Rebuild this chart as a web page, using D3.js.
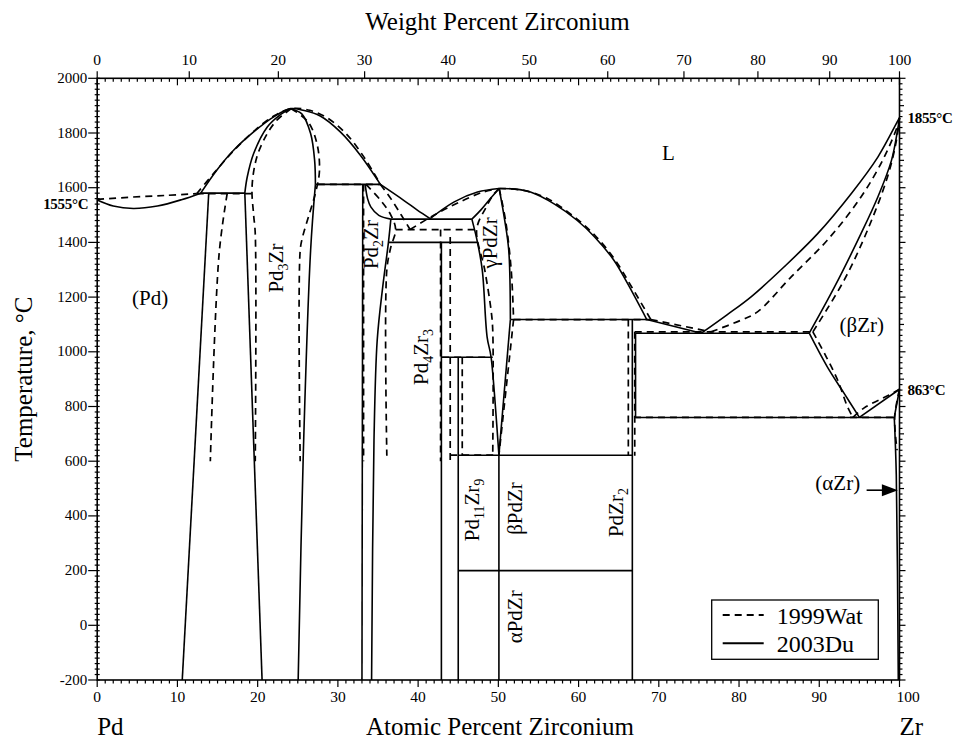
<!DOCTYPE html>
<html>
<head>
<meta charset="utf-8">
<script src="https://cdn.jsdelivr.net/npm/d3@7"></script>
<style>
body{margin:0;background:#fff}
text{font-family:"Liberation Serif","Times New Roman",serif;fill:#000}
</style>
</head>
<body>
<div id="chart"></div>
<script>
// points are [atomic % Zr, temperature °C]

// 2003Du (solid)
const duPdLiquidus = [[0,1555],[2,1533],[4.5,1524],[7.5,1533],[10.5,1556],[12.9,1580]]
const duPd3ZrLiquidus = [[12.9,1580],[14.9,1664],[17.0,1737],[19.5,1804],[22.0,1859],[24.1,1889],[25.8,1882],[27.8,1862],[30.3,1804],[32.8,1719],[35.3,1612]]
const duPd3ZrLeftHigh = [[24.1,1889],[22.6,1862],[21.2,1822],[19.5,1725],[18.7,1639],[18.4,1580]]
const duPd3ZrLeftLow = [[18.4,1580],[20.55,-200]]
const duPd3ZrRightHigh = [[24.1,1889],[25.5,1870],[26.6,1798],[27.1,1700],[27.2,1612]]
const duPd3ZrRightLow = [[27.2,1612],[26.6,1371],[25.7,640],[25.05,-200]]
const duPdSolvus = [[13.9,1580],[10.6,-200]]
const duPeritectic1580 = [[12.9,1580],[18.4,1580]]
const duPeritectic1612 = [[27.2,1612],[35.3,1612]]
const duPd2ZrLeft = [[33.1,1612],[33.0,-200]]
const duPd2ZrSolidus = [[33.4,1612],[33.7,1560],[34.1,1530],[35.1,1499],[36.6,1485]]
const duPd2ZrSolvus = [[36.6,1485],[36.3,1400],[35.6,1240],[34.9,1042],[34.5,677],[34.2,-200]]
const duLiquidusEutLeft = [[35.3,1612],[38.2,1554],[39.9,1518],[41.5,1487]]
const duLiquidusEutRight = [[41.5,1487],[44.5,1548],[47.4,1584],[50.1,1597]]
const duEutectic1485 = [[36.6,1485],[46.7,1485]]
const duPeritectoid1400 = [[36.3,1400],[47.4,1400]]
const duPd4Zr3 = [[42.9,1400],[42.9,-200]]
const duPeritectoid980 = [[42.9,980],[49.1,980]]
const duPd11Zr9 = [[45.0,980],[45.0,-200]]
const duGammaLeftHigh = [[50.1,1597],[49.0,1560],[47.8,1518],[46.7,1485]]
const duGammaLeftLow = [[46.7,1485],[47.4,1400],[48.0,1298],[48.6,1054],[49.1,980],[50.07,622]]
const duGammaRightHigh = [[50.1,1597],[50.8,1480],[51.3,1370],[51.5,1118]]
const duGammaRightLow = [[51.5,1118],[50.07,622]]
const duLiquidusPdZr = [[50.1,1597],[52,1595],[54,1584],[57,1540],[59.8,1481],[62,1420],[64.4,1335],[66.1,1250],[68.5,1118]]
const duLiquidusEut2 = [[68.5,1118],[75.3,1068]]
const duPeritectic1118 = [[51.5,1118],[68.5,1118]]
const duPdZr2Left = [[66.7,1118],[66.7,-200]]
const duPdZr2Right = [[67.1,1068],[67.1,760]]
const duEutectic1068 = [[67.1,1068],[88.75,1068]]
const duLiquidusBZr = [[75.3,1068],[78.5,1135],[81.5,1201],[85.6,1310],[89.8,1432],[94.0,1579],[97.3,1712],[99.8,1845],[100,1855]]
const duSolidusBZr = [[88.75,1068],[91.9,1237],[95.2,1432],[97.3,1566],[99.0,1700],[99.7,1800],[100,1855]]
const duBZrSolvus = [[88.75,1068],[91.0,945],[93.1,848],[95.0,760]]
const duEutectoid760 = [[67.1,760],[99.35,760]]
const duBetaAlpha = [[95.0,760],[100,863]]
const duAlphaHigh = [[100,863],[99.35,760]]
const duAlphaLow = [[99.35,760],[99.6,550],[99.85,-200]]
const duPdZr = [[50.07,622],[50.07,-200]]
const duEutectoid622 = [[45.0,622],[66.7,622]]
const duTransition200 = [[45.0,200],[66.7,200]]

// 1999Wat (dashed)
const watPdLiquidus = [[0,1557],[4.5,1566],[8.7,1572],[12.4,1578]]
const watPd3ZrLiquidus = [[12.4,1578],[14.6,1655],[17.0,1735],[19.5,1806],[22.0,1862],[24.2,1889],[26.5,1883],[28.7,1855],[31.0,1798],[33.3,1710],[35.3,1612]]
const watPeritectic1578 = [[12.4,1578],[19.3,1578]]
const watPdSolvus = [[16.2,1578],[15.2,1360],[14.1,600]]
const watPd3ZrLeft = [[24.2,1889],[22.5,1850],[21.2,1798],[19.9,1712],[19.3,1603],[19.5,1500],[19.7,1432],[19.7,600]]
const watPd3ZrRight = [[24.2,1889],[26.3,1840],[27.4,1760],[27.7,1660],[27.2,1580],[26.4,1500],[25.6,1420],[25.3,1370],[25.3,600]]
const watPeritectic1612 = [[27.5,1612],[35.3,1612]]
const watPd2ZrLeft = [[33.2,1612],[33.2,600]]
const watPd2ZrRight = [[33.5,1612],[35.3,1555],[36.6,1500],[37.2,1447],[36.6,1383],[36.1,1300],[36.1,620]]
const watLiquidusEutLeft = [[35.3,1612],[36.6,1560],[37.9,1500],[39.0,1447]]
const watLiquidusEutRight = [[39.0,1447],[42.0,1500],[45.0,1545],[48.0,1583],[50.1,1597]]
const watEutectic1447 = [[37.2,1447],[47.3,1447]]
const watPd4Zr3Left = [[42.8,1447],[42.8,600]]
const watPd4Zr3Right = [[44.0,1420],[44.0,600]]
const watPeritectoid980 = [[43.0,980],[49.3,980]]
const watPd11Zr9 = [[45.5,980],[45.5,620]]
const watGammaLeft = [[50.1,1597],[49.4,1575],[48.5,1530],[47.3,1447],[48.3,1300],[49.1,1150],[49.3,1080],[49.3,620]]
const watGammaRightHigh = [[50.1,1597],[50.9,1480],[51.6,1300],[51.9,1118]]
const watGammaRightLow = [[51.9,1118],[50.07,622]]
const watEutectoid622 = [[44.0,622],[50.07,622]]
const watLiquidusPdZr = [[50.1,1597],[53.0,1591],[56.0,1562],[59.5,1492],[62.0,1427],[64.5,1338],[66.6,1238],[69.0,1118]]
const watPeritectic1118 = [[51.9,1118],[69.0,1118]]
const watLiquidusEut2 = [[69.0,1118],[76.5,1073]]
const watPdZr2Left = [[66.2,1118],[66.2,620]]
const watPdZr2Right = [[67.0,1073],[67.0,620]]
const watEutectic1073 = [[67.0,1073],[89.2,1073]]
const watLiquidusBZr = [[76.5,1073],[80.2,1115],[82.3,1146],[86.5,1274],[91.0,1408],[95.2,1566],[98.1,1712],[99.8,1830],[100,1855]]
const watSolidusBZr = [[89.2,1073],[93.1,1262],[96.0,1444],[98.5,1639],[99.6,1770],[100,1855]]
const watBZrSolvus = [[89.2,1073],[90.9,980],[92.3,896],[93.5,800],[94.2,760]]
const watEutectoid760 = [[66.9,760],[99.3,760]]
const watBetaAlpha = [[94.2,760],[95.6,795],[98.7,842],[100,863]]
const watAlpha = [[100,863],[99.4,760],[99.7,640]]

const duLines = [duPdLiquidus, duPd3ZrLiquidus, duPd3ZrLeftHigh, duPd3ZrLeftLow, duPd3ZrRightHigh, duPd3ZrRightLow,
    duPdSolvus, duPeritectic1580, duPeritectic1612, duPd2ZrLeft, duPd2ZrSolidus, duPd2ZrSolvus, duLiquidusEutLeft,
    duLiquidusEutRight, duEutectic1485, duPeritectoid1400, duPd4Zr3, duPeritectoid980, duPd11Zr9, duGammaLeftHigh,
    duGammaLeftLow, duGammaRightHigh, duGammaRightLow, duLiquidusPdZr, duLiquidusEut2, duPeritectic1118, duPdZr2Left,
    duPdZr2Right, duEutectic1068, duLiquidusBZr, duSolidusBZr, duBZrSolvus, duEutectoid760, duBetaAlpha, duAlphaHigh,
    duAlphaLow, duPdZr, duEutectoid622, duTransition200]
const watLines = [watPdLiquidus, watPd3ZrLiquidus, watPeritectic1578, watPdSolvus, watPd3ZrLeft, watPd3ZrRight,
    watPeritectic1612, watPd2ZrLeft, watPd2ZrRight, watLiquidusEutLeft, watLiquidusEutRight, watEutectic1447,
    watPd4Zr3Left, watPd4Zr3Right, watPeritectoid980, watPd11Zr9, watGammaLeft, watGammaRightHigh, watGammaRightLow,
    watEutectoid622, watLiquidusPdZr, watPeritectic1118, watLiquidusEut2, watPdZr2Left, watPdZr2Right, watEutectic1073,
    watLiquidusBZr, watSolidusBZr, watBZrSolvus, watEutectoid760, watBetaAlpha, watAlpha]

const tempTicks = d3.range(-200, 2001, 200)
const atTicks = d3.range(0, 101, 10)
const wtTicks = d3.range(0, 101, 10)

// phase labels: odd parts are subscripts
const flatLabels = [
    {parts:["L"], at:71.2, t:1701},
    {parts:["(Pd)"], at:6.6, t:1171},
    {parts:["(βZr)"], at:95.3, t:1073},
    {parts:["(αZr)"], at:92.3, t:495}
]
const upLabels = [
    {parts:["Pd","3","Zr"], at:23.2, t:1306},
    {parts:["Pd","2","Zr"], at:35.0, t:1392},
    {parts:["Pd","4","Zr","3"], at:41.2, t:981},
    {parts:["γPdZr"], at:49.8, t:1398},
    {parts:["Pd","11","Zr","9"], at:47.6, t:422},
    {parts:["βPdZr"], at:52.9, t:427},
    {parts:["PdZr","2"], at:65.5, t:412},
    {parts:["αPdZr"], at:52.9, t:31}
]
const tempNotes = [
    {text:"1555°C", at:0, t:1555, side:"left"},
    {text:"1855°C", at:100, t:1855, side:"right"},
    {text:"863°C", at:100, t:863, side:"right"}
]

let width = 961, height = 742
let svg = d3.select("#chart").append("svg")
    .attr("width", width)
    .attr("height", height)

let x = d3.scaleLinear().domain([0,100]).range([97.2,899.5])
let y = d3.scaleLinear().domain([-200,2000]).range([680,78.3])

function wtToAt(w){
    let a = w/91.224, b = (100-w)/106.42
    return 100*a/(a+b)
}

let line = d3.line()
    .x(d=>x(d[0]))
    .y(d=>y(d[1]))
    .curve(d3.curveCatmullRom.alpha(0.5))

//LINES
svg.append("g").selectAll("path")
    .data(watLines)
    .enter().append("path")
    .attr("d", line)
    .attr("fill", "none")
    .attr("stroke", "#000")
    .attr("stroke-width", 1.7)
    .attr("stroke-dasharray", "7,5")

svg.append("g").selectAll("path")
    .data(duLines)
    .enter().append("path")
    .attr("d", line)
    .attr("fill", "none")
    .attr("stroke", "#000")
    .attr("stroke-width", 1.6)

//FRAME
let x0 = x(0), x1 = x(100), y0 = y(-200), y1 = y(2000)
let axes = svg.append("g").attr("stroke", "#000")
axes.append("rect")
    .attr("x", x0).attr("y", y1)
    .attr("width", x1-x0).attr("height", y0-y1)
    .attr("fill", "none").attr("stroke-width", 1.6)

// bottom ticks (outward)
axes.selectAll(".bt").data(d3.range(0,101,1)).enter().append("line")
    .attr("x1", d=>x(d)).attr("x2", d=>x(d))
    .attr("y1", y0).attr("y2", d=>y0 + (d%10===0 ? 7 : 3.5))
    .attr("stroke-width", 1.2)
// top atomic ticks (inward)
axes.selectAll(".tt").data(d3.range(0,101,1)).enter().append("line")
    .attr("x1", d=>x(d)).attr("x2", d=>x(d))
    .attr("y1", y1).attr("y2", d=>y1 + (d%10===0 ? 7 : 3.5))
    .attr("stroke-width", 1.2)
// top weight ticks (outward)
axes.selectAll(".wt").data(wtTicks).enter().append("line")
    .attr("x1", d=>x(wtToAt(d))).attr("x2", d=>x(wtToAt(d)))
    .attr("y1", y1).attr("y2", y1-7)
    .attr("stroke-width", 1.2)
// left and right temperature ticks
let minorT = d3.range(-200,2001,20)
axes.selectAll(".lt").data(minorT).enter().append("line")
    .attr("x1", d=>d%200===0 ? x0-9 : x0-2.5).attr("x2", x0+2.5)
    .attr("y1", d=>y(d)).attr("y2", d=>y(d))
    .attr("stroke-width", 1.2)
axes.selectAll(".rt").data(minorT).enter().append("line")
    .attr("x1", x1).attr("x2", d=>d%200===0 ? x1+6 : (d%100===0 ? x1+4.5 : x1+3))
    .attr("y1", d=>y(d)).attr("y2", d=>y(d))
    .attr("stroke-width", 1.2)

//TICK LABELS
svg.append("g").selectAll("text").data(tempTicks).enter().append("text")
    .attr("x", x0-10).attr("y", d=>y(d)).attr("dy", "0.3em")
    .attr("text-anchor", "end").attr("font-size", 15)
    .text(d=>d)
svg.append("g").selectAll("text").data(atTicks).enter().append("text")
    .attr("x", d=>d===100 ? x(d)-3 : x(d)).attr("y", 702)
    .attr("text-anchor", d=>d===100 ? "start" : "middle").attr("font-size", 15.5)
    .text(d=>d)
svg.append("g").selectAll("text").data(wtTicks).enter().append("text")
    .attr("x", d=>x(wtToAt(d))).attr("y", 65)
    .attr("text-anchor", "middle").attr("font-size", 15.5)
    .text(d=>d)

//AXIS TITLES
svg.append("text").attr("x", 497.5).attr("y", 29.5)
    .attr("text-anchor", "middle").attr("font-size", 25)
    .text("Weight Percent Zirconium")
svg.append("text").attr("x", 500).attr("y", 735)
    .attr("text-anchor", "middle").attr("font-size", 25)
    .text("Atomic Percent Zirconium")
svg.append("text").attr("x", x0).attr("y", 735)
    .attr("font-size", 25).text("Pd")
svg.append("text").attr("x", x1).attr("y", 735)
    .attr("font-size", 25).text("Zr")
svg.append("text")
    .attr("transform", "translate(31.5," + ((y0+y1)/2) + ") rotate(-90)")
    .attr("text-anchor", "middle").attr("font-size", 25)
    .text("Temperature, °C")

//TEMPERATURE NOTES
svg.append("g").selectAll("text").data(tempNotes).enter().append("text")
    .attr("x", d=>d.side==="left" ? x(d.at)-9 : x(d.at)+8)
    .attr("y", d=>y(d.t)).attr("dy", d=>d.side==="left" ? "0.6em" : "0.36em")
    .attr("text-anchor", d=>d.side==="left" ? "end" : "start")
    .attr("font-size", 15).attr("font-weight", "bold")
    .attr("letter-spacing", -0.3)
    .text(d=>d.text)

//PHASE LABELS
function addParts(sel){
    sel.each(function(d){
        let t = d3.select(this)
        d.parts.forEach((p,i)=>{
            let sub = i%2===1
            t.append("tspan")
                .attr("font-size", sub ? 14 : null)
                .attr("dy", sub ? 5 : (i>0 ? -5 : 0))
                .text(p)
        })
    })
}
svg.append("g").selectAll("text").data(flatLabels).enter().append("text")
    .attr("x", d=>x(d.at)).attr("y", d=>y(d.t)).attr("dy", "0.35em")
    .attr("text-anchor", "middle").attr("font-size", 21)
    .call(addParts)
svg.append("g").selectAll("text").data(upLabels).enter().append("text")
    .attr("transform", d=>"translate(" + x(d.at) + "," + y(d.t) + ") rotate(-90)")
    .attr("text-anchor", "middle").attr("font-size", 21)
    .call(addParts)

// arrow to (αZr)
let arrowY = y(494)
svg.append("line")
    .attr("x1", x(95.9)).attr("x2", x(99.8)-12)
    .attr("y1", arrowY).attr("y2", arrowY)
    .attr("stroke", "#000").attr("stroke-width", 1.6)
svg.append("path")
    .attr("d", "M" + x(99.8) + "," + arrowY + "l-16,-6l0,12z")
    .attr("fill", "#000")

//LEGEND
let lg = svg.append("g").attr("transform", "translate(711.7,600)")
lg.append("rect").attr("width", 166.6).attr("height", 59.3)
    .attr("fill", "#fff").attr("stroke", "#000").attr("stroke-width", 1.3)
let legendItems = [["1999Wat", "7,5"], ["2003Du", null]]
legendItems.forEach((item,i)=>{
    lg.append("line").attr("x1", 11).attr("x2", 52)
        .attr("y1", 15+i*28.3).attr("y2", 15+i*28.3)
        .attr("stroke", "#000").attr("stroke-width", 2)
        .attr("stroke-dasharray", item[1])
    lg.append("text").attr("x", 65).attr("y", 23.5+i*28.3)
        .attr("font-size", 24).text(item[0])
})
</script>
</body>
</html>
